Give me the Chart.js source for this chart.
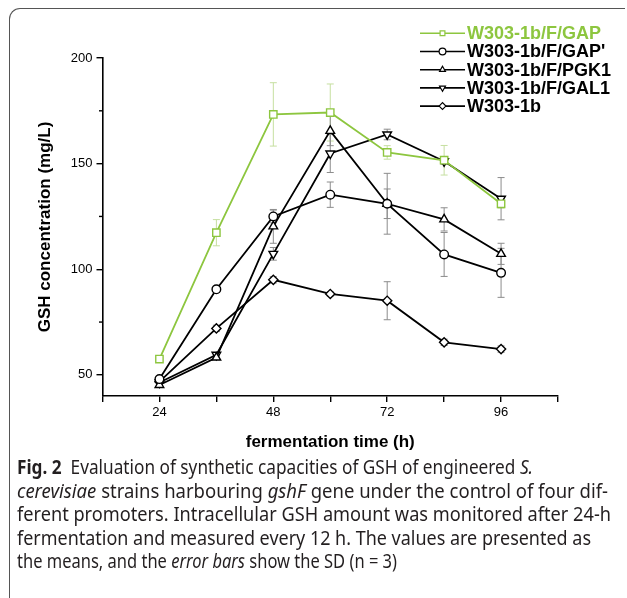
<!DOCTYPE html>
<html><head><meta charset="utf-8">
<script src="https://cdn.jsdelivr.net/npm/chart.js@4.4.1/dist/chart.umd.min.js"></script>
<style>
html,body{margin:0;padding:0;background:#fff;}
body{width:627px;height:598px;position:relative;overflow:hidden;}
#frame{position:absolute;left:9px;top:7.5px;width:616px;height:700px;border-top:1.5px solid #555;border-left:1.5px solid #555;border-top-left-radius:11px;box-sizing:border-box;}
#wrap{position:absolute;left:0;top:0;width:627px;height:455px;}
#caption{position:absolute;left:17px;top:456px;font-family:"Noto Sans";font-size:19px;line-height:23.5px;color:#231f20;}
.ln{white-space:nowrap;transform-origin:0 50%;display:block;width:max-content;}
</style></head>
<body>
<div id="frame"></div>
<div id="wrap"><canvas id="c" width="627" height="455"></canvas></div>
<div id="caption">
<span class="ln"><b>Fig. 2</b>&nbsp; Evaluation of synthetic capacities of GSH of engineered <i>S.</i></span>
<span class="ln"><i>cerevisiae</i> strains harbouring <i>gshF</i> gene under the control of four dif-</span>
<span class="ln">ferent promoters. Intracellular GSH amount was monitored after 24-h</span>
<span class="ln">fermentation and measured every 12 h. The values are presented as</span>
<span class="ln">the means, and the <i>error bars</i> show the SD (n = 3)</span>
</div>
<script>
// ---- data ----
const timePoints = [24, 36, 48, 60, 72, 84, 96];
const seriesNames = ['W303-1b/F/GAP', "W303-1b/F/GAP'", 'W303-1b/F/PGK1', 'W303-1b/F/GAL1', 'W303-1b'];
const gapValues   = [57.5, 117.3, 173.3, 174.2, 155.3, 151.6, 131.0];
const gapSd       = [1.0, 6.2, 15.0, 13.5, 3.2, 7.0, 2.0];
const gapPValues  = [48.0, 90.5, 125.0, 135.3, 131.0, 107.0, 98.3];
const gapPSd      = [1.0, 1.5, 3.0, 6.0, 14.4, 10.4, 11.6];
const pgk1Values  = [45.2, 58.2, 120.3, 165.5, 131.0, 123.6, 107.3];
const pgk1Sd      = [1.0, 1.0, 8.0, 7.0, 7.0, 5.5, 5.0];
const gal1Values  = [46.4, 59.5, 107.3, 154.8, 163.8, 151.1, 133.4];
const gal1Sd      = [1.0, 1.0, 3.0, 9.0, 2.5, 1.5, 10.0];
const wtValues    = [46.8, 72.0, 95.0, 88.3, 85.1, 65.4, 62.2];
const wtSd        = [1.0, 1.5, 1.5, 1.0, 9.0, 1.5, 1.5];
const xTickLabels = [24, 48, 72, 96];
const yTickLabels = [50, 100, 150, 200];
const yMinorTicks = [75, 125, 175];

// ---- styles ----
const GREEN = '#8dc63f', GREEN_ERR = '#c6dfa0', GRAY_ERR = '#8c8c8c';
const FONT = 'Liberation Sans, Arial, sans-serif';

function mk(label, vals, sd, color, style, rot, r) {
  return {
    label, sd, errColor: color === GREEN ? GREEN_ERR : GRAY_ERR,
    data: timePoints.map((t, i) => ({x: t, y: vals[i]})),
    borderColor: color, backgroundColor: '#fff',
    borderWidth: 1.8, pointStyle: style, rotation: rot, pointRadius: r,
    pointBorderColor: color, pointBackgroundColor: '#fff', pointBorderWidth: 1.4,
    tension: 0
  };
}
const datasets = [
  mk(seriesNames[0], gapValues, gapSd, GREEN, 'rect', 0, 5.2),
  mk(seriesNames[1], gapPValues, gapPSd, '#000', 'circle', 0, 4.3),
  mk(seriesNames[2], pgk1Values, pgk1Sd, '#000', 'triangle', 0, 5),
  mk(seriesNames[3], gal1Values, gal1Sd, '#000', 'triangle', 180, 5),
  mk(seriesNames[4], wtValues, wtSd, '#000', 'rectRot', 0, 4.6)
];

const errorBars = {
  id: 'errorBars',
  beforeDatasetsDraw(chart) {
    const {ctx, scales: {x, y}} = chart;
    ctx.save();
    chart.data.datasets.forEach(ds => {
      ctx.strokeStyle = ds.errColor; ctx.lineWidth = 1;
      ds.data.forEach((p, i) => {
        const s = ds.sd[i];
        const px = x.getPixelForValue(p.x);
        const t = y.getPixelForValue(p.y + s), b = y.getPixelForValue(p.y - s);
        ctx.beginPath();
        ctx.moveTo(px, t); ctx.lineTo(px, b);
        ctx.moveTo(px - 3.5, t); ctx.lineTo(px + 3.5, t);
        ctx.moveTo(px - 3.5, b); ctx.lineTo(px + 3.5, b);
        ctx.stroke();
      });
    });
    ctx.restore();
  }
};

const minorTicks = {
  id: 'minorTicks',
  afterDraw(chart) {
    const {ctx, scales: {y}} = chart;
    ctx.save(); ctx.strokeStyle = '#000'; ctx.lineWidth = 1.4;
    yMinorTicks.forEach(v => {
      const py = y.getPixelForValue(v);
      ctx.beginPath(); ctx.moveTo(y.right, py); ctx.lineTo(y.right - 3.5, py); ctx.stroke();
    });
    ctx.restore();
  }
};

const customLegend = {
  id: 'customLegend',
  afterDraw(chart) {
    const {ctx} = chart;
    const x0 = 420, x1 = 465, tx = 467, y0 = 33.3, dy = 18.2;
    ctx.save();
    chart.data.datasets.forEach((ds, i) => {
      const yy = y0 + i * dy;
      ctx.strokeStyle = ds.borderColor; ctx.lineWidth = 1.6;
      ctx.beginPath(); ctx.moveTo(x0, yy); ctx.lineTo(x1, yy); ctx.stroke();
      ctx.fillStyle = '#fff'; ctx.lineWidth = 1.2;
      Chart.helpers.drawPoint(ctx, {pointStyle: ds.pointStyle, rotation: ds.rotation, radius: 3.4, borderWidth: 1.2}, (x0 + x1) / 2, yy);
      ctx.fillStyle = ds.borderColor;
      ctx.font = 'bold 18px ' + FONT;
      ctx.textBaseline = 'middle'; ctx.textAlign = 'left';
      ctx.fillText(ds.label, tx, yy + 1);
    });
    ctx.restore();
  }
};

new Chart(document.getElementById('c'), {
  type: 'line',
  data: {datasets},
  options: {
    responsive: false, animation: false,
    layout: {padding: {left: 0, right: 69, top: 58, bottom: 0}, autoPadding: false},
    plugins: {legend: {display: false}, tooltip: {enabled: false}},
    scales: {
      x: {
        type: 'linear', min: 12, max: 108,
        afterFit(s) { s.height = 59; },
        ticks: {stepSize: 12, autoSkip: false, maxRotation: 0, color: '#000', padding: 3,
          font: {family: FONT, size: 13},
          callback: v => xTickLabels.includes(v) ? String(v) : ''},
        grid: {drawOnChartArea: false, drawTicks: true, tickLength: 6, color: '#000', lineWidth: 1.4},
        border: {display: true, color: '#000', width: 1.6},
        title: {display: true, text: 'fermentation time (h)', color: '#000',
          font: {family: FONT, size: 17, weight: 'bold'}, padding: {top: 0, bottom: 2.8}}
      },
      y: {
        type: 'linear', min: 40, max: 200,
        afterFit(s) { s.width = 102.5; },
        afterBuildTicks(s) { s.ticks = yTickLabels.map(v => ({value: v})); },
        ticks: {color: '#000', padding: 4, font: {family: FONT, size: 13}, callback: v => String(v)},
        grid: {drawOnChartArea: false, drawTicks: true, tickLength: 6, color: '#000', lineWidth: 1.4},
        border: {display: true, color: '#000', width: 1.6},
        title: {display: true, text: 'GSH concentration (mg/L)', color: '#000',
          font: {family: FONT, size: 17, weight: 'bold'}, padding: {top: 35.6, bottom: 0}}
      }
    }
  },
  plugins: [errorBars, minorTicks, customLegend]
});

// fit caption lines to the widths measured on the reference
const lineTargets = [516, 591, 594, 574, 380];
function fitCaption() {
  const els = Array.from(document.querySelectorAll('.ln'));
  els.forEach((el, i) => {
    el.style.transform = 'none';
    const w = el.getBoundingClientRect().width;
    el.style.transform = 'scaleX(' + (lineTargets[i] / w) + ')';
  });
}
fitCaption();
if (document.fonts && document.fonts.ready) document.fonts.ready.then(fitCaption);
</script>
</body></html>
